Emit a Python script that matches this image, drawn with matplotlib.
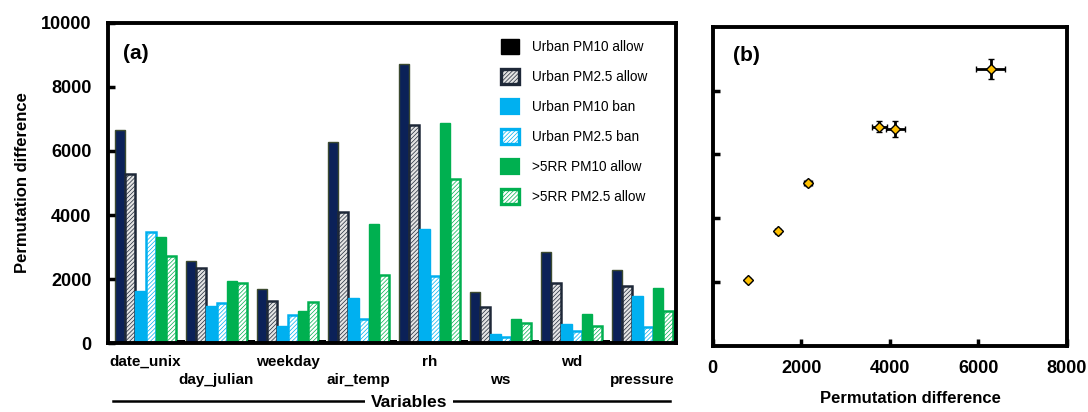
import numpy as np
import matplotlib.pyplot as plt
from matplotlib.patches import Patch

plt.rcParams['font.family'] = ['Liberation Sans', 'DejaVu Sans']
plt.rcParams['hatch.linewidth'] = 0.5

# ---- panel (a) data ----
variables = ['date_unix', 'day_julian', 'weekday', 'air_temp', 'rh', 'ws', 'wd', 'pressure']
urban_pm10_allow = [6640, 2570, 1710, 6270, 8720, 1610, 2840, 2290]
urban_pm25_allow = [5290, 2340, 1320, 4100, 6800, 1130, 1880, 1790]
urban_pm10_ban = [1630, 1170, 550, 1410, 3580, 280, 590, 1470]
urban_pm25_ban = [3470, 1250, 890, 760, 2100, 210, 390, 520]
rr_pm10_allow = [3310, 1950, 1010, 3730, 6860, 770, 910, 1730]
rr_pm25_allow = [2710, 1880, 1300, 2130, 5130, 640, 540, 1000]
spacer = [100, 100, 100, 100, 100, 100, 100, 100]

series_names = ['Urban PM10 allow', 'Urban PM2.5 allow', 'Urban PM10 ban',
                'Urban PM2.5 ban', '>5RR PM10 allow', '>5RR PM2.5 allow']

# ---- panel (b) data ----
b_x = [790, 1470, 2150, 3770, 4130, 6280]
b_y = [2080, 3590, 5110, 6870, 6800, 8680]
b_xerr = [40, 60, 90, 160, 220, 320]
b_yerr = [60, 80, 100, 180, 260, 310]

navy = '#0b2158'
blue = '#00b0f0'
green = '#00b050'

styles = [
    dict(color=navy, edgecolor='#3c4a30', linewidth=1.0),
    dict(color='#e4e4e4', edgecolor='#1e2838', linewidth=1.8, hatch='////////'),
    dict(color=blue, edgecolor=blue, linewidth=1.0),
    dict(color='white', edgecolor=blue, linewidth=1.8, hatch='////////'),
    dict(color=green, edgecolor=green, linewidth=1.0),
    dict(color='white', edgecolor=green, linewidth=1.8, hatch='////////'),
]

fig = plt.figure(figsize=(10.88, 4.12), dpi=100)
ax = fig.add_axes([0.0993, 0.1667, 0.522, 0.778])
bx = fig.add_axes([0.655, 0.160, 0.3254, 0.775])

x = np.arange(len(variables))
w = 1 / 7
all_series = [urban_pm10_allow, urban_pm25_allow, urban_pm10_ban,
              urban_pm25_ban, rr_pm10_allow, rr_pm25_allow]
for j, (vals, st) in enumerate(zip(all_series, styles)):
    ax.bar(x + j * w, vals, width=w, align='edge', **st)
ax.bar(x + 6 * w + 0.02, spacer, width=w * 0.7, align='edge', color='black')

ax.set_xlim(-0.1, 7.9)
ax.set_ylim(0, 10000)
ax.set_yticks([0, 2000, 4000, 6000, 8000, 10000])
ax.set_xticks([])
ax.tick_params(axis='y', direction='in', width=2.5, length=5, pad=12, labelsize=13)
for lab in ax.get_yticklabels():
    lab.set_fontweight('bold')
for sp in ax.spines.values():
    sp.set_linewidth(2.8)
ax.set_ylabel('Permutation difference', fontsize=12, fontweight='bold', labelpad=8)

# alternating category labels
for i, name in enumerate(variables):
    yoff = -0.058 if i % 2 == 0 else -0.115
    ax.text(i + 3 * w, yoff, name, transform=ax.get_xaxis_transform(),
            ha='center', va='center', fontsize=11, fontweight='bold')

ax.plot([0.009, 0.989], [-0.18, -0.18], transform=ax.transAxes, color='black',
        lw=1.8, clip_on=False)
ax.text(0.53, -0.186, 'Variables', transform=ax.transAxes, ha='center', va='center',
        fontsize=12.5, fontweight='bold',
        bbox=dict(facecolor='white', edgecolor='none', pad=4))

ax.text(0.027, 0.905, '(a)', transform=ax.transAxes, ha='left', va='center',
        fontsize=15, fontweight='bold')

handles = [Patch(facecolor='black', edgecolor='black', linewidth=1.0)]
for st in styles[1:]:
    handles.append(Patch(facecolor=st['color'], edgecolor=st['edgecolor'],
                         linewidth=st['linewidth'] + 0.6, hatch=st.get('hatch')))
ax.legend(handles, series_names, loc='upper left', bbox_to_anchor=(0.68, 0.97),
          frameon=False, borderpad=0, handlelength=1.35, handleheight=1.35,
          labelspacing=1.08, handletextpad=0.9,
          prop=dict(family=['Liberation Sans Narrow', 'Liberation Sans'], size=9.8))

# ---- panel (b) ----
bx.errorbar(b_x, b_y, xerr=b_xerr, yerr=b_yerr, fmt='D', color='black',
            ecolor='black', elinewidth=2, capsize=2.5, capthick=2,
            markerfacecolor='#ffc000', markeredgecolor='black',
            markeredgewidth=1.0, markersize=4.8, zorder=3)
bx.set_xlim(0, 8000)
bx.set_ylim(0, 10000)
bx.set_xticks([0, 2000, 4000, 6000, 8000])
bx.set_yticks([2000, 4000, 6000, 8000])
bx.set_yticklabels([])
bx.tick_params(axis='both', direction='in', width=2.5, length=5, labelsize=13)
bx.tick_params(axis='x', pad=10)
for lab in bx.get_xticklabels():
    lab.set_fontweight('bold')
for sp in bx.spines.values():
    sp.set_linewidth(2.8)
bx.set_xlabel('Permutation difference', fontsize=12, fontweight='bold', labelpad=6)
bx.xaxis.set_label_coords(0.56, -0.14)
bx.text(0.057, 0.91, '(b)', transform=bx.transAxes, ha='left', va='center',
        fontsize=15, fontweight='bold')

fig.savefig('out.png', dpi=100)
